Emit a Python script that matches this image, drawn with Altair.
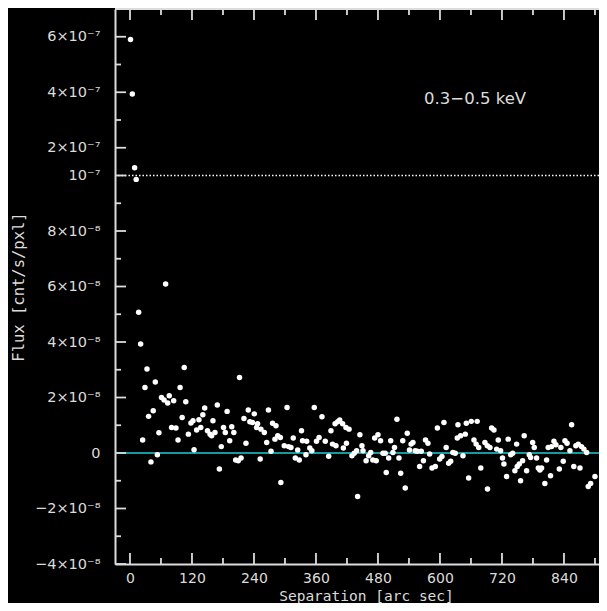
import altair as alt
import pandas as pd

# ---- data (separation in arcsec, flux in units of 1e-8 cnt/s/pxl)
SEP = [1, 4.5, 9, 12, 16.8, 20.6, 24.5, 29, 32.9, 36, 40.6, 45, 49, 53, 56, 61, 66, 69, 73, 76,
       80.5, 84.6, 89, 93, 97, 101, 105, 108, 113, 118, 122, 124, 129, 133.5, 137, 141, 144.6, 150,
       155, 158, 160.6, 164.5, 169, 173, 176.7, 181, 184.5, 188, 193, 197, 201, 204.6, 209.6, 212,
       215, 220.6, 224.5, 229, 232, 237, 240.6, 245, 247, 252, 253.5, 260, 264.6, 268, 273, 276,
       280.6, 282.6, 286, 291, 292, 298.6, 304, 307, 311.6, 316, 320, 324.6, 327.6, 332, 334,
       340.6, 342, 348, 352, 356.7, 361, 366, 371.6, 378, 384.6, 389, 392, 397, 398.7, 402, 406,
       411.6, 413, 418, 419, 424, 429.6, 434, 438.7, 440.6, 445, 449, 451, 457, 462, 466, 470,
       473.6, 476.6, 480, 485, 489.6, 494, 496, 500.7, 504.6, 509, 512, 516.7, 520.6, 524, 528,
       532.8, 536.7, 541, 544, 547.7, 552, 556, 560.6, 563.8, 568, 572, 576.7, 580, 584.6, 591,
       595, 599.4, 603.8, 607.7, 612, 616.8, 620.7, 625, 629.6, 633.5, 634.8, 640, 644.5, 649,
       651, 655.5, 660.6, 665.8, 670, 672, 675, 679, 687, 691.6, 692, 696.7, 700, 704.5, 709.7,
       712.8, 717.4, 721, 723.8, 729, 732, 736.8, 740.7, 745, 748.4, 749.6, 753.5, 756, 760, 763,
       767.7, 772.8, 775.5, 779.4, 782.5, 787, 790.3, 793.5, 796.7, 803, 806.4, 809.5, 814, 816,
       820.6, 824.5, 831, 834, 838.6, 841.9, 846, 851.6, 854.8, 859, 863, 867.6, 871, 874, 878.6,
       883.9, 887, 891.6, 900]
FLUX_E8 = [59.0, 39.4, 12.8, 9.86, 5.07, 3.93, 0.47, 2.36, 3.03, 1.32, -0.32, 1.52, 2.56, -0.06,
           0.73, 2.0, 1.91, 6.09, 1.80, 2.06, 0.92, 1.88, 0.90, 0.47, 2.36, 1.28, 3.08, 1.85, 0.68,
           1.08, 1.16, 0.12, 0.83, 1.2, 0.92, 1.38, 1.62, 0.80, 0.68, 0.62, 1.16, 0.74, 1.73, -0.58,
           0.23, 0.92, 0.74, 1.50, 0.44, 0.95, 0.74, -0.25, -0.28, 2.72, -0.18, 1.24, 0.35, 1.55,
           1.13, 1.10, 1.41, 0.92, 1.05, -0.22, 0.86, 0.74, 0.38, 1.55, 0.06, 1.07, 0.50, 0.98,
           0.62, 0.56, -1.06, 0.26, 1.64, 0.23, 0.20, 0.54, -0.18, 0.11, -0.25, 0.80, 0.44, -0.06,
           0.42, 0.18, 0.08, 1.64, 0.42, 0.56, 1.31, 0.42, -0.12, 0.80, 0.32, 1.05, 0.26, 1.13,
           1.19, 1.05, 0.18, 0.92, 0.35, 0.86, -0.10, -0.01, 0.08, -1.57, 0.66, 0.26, 0.08, -0.28,
           -0.10, 0.02, -0.25, 0.54, -0.28, 0.66, 0.44, -0.01, -0.01, -0.70, -0.18, 0.44, 0.02,
           0.20, 1.22, -0.18, -0.73, 0.44, -1.26, 0.71, 0.11, 0.32, 0.38, 0.08, 0.06, -0.49, 0.06,
           -0.28, 0.47, 0.35, -0.04, -0.54, -0.49, 0.90, -0.22, -0.13, 1.10, 0.20, -0.37, -0.30,
           0.02, -0.01, 0.54, 1.02, 0.62, -0.10, 0.68, 1.07, -0.90, 1.14, 0.47, 0.32, 1.14, 0.20,
           -0.54, 0.38, 0.26, -1.30, 0.20, 0.90, 0.83, 0.14, 0.47, 0.08, -0.18, -0.40, -0.85, 0.50,
           -0.06, -0.01, -0.64, 0.32, -0.49, -0.40, -1.0, -0.28, 0.62, -0.64, -0.06, -0.16, 0.38,
           0.20, -0.18, -0.54, -0.61, -0.54, -1.10, -0.25, 0.20, -0.82, 0.23, 0.42, 0.30, -0.58,
           0.20, -0.30, 0.44, 0.35, 0.08, 1.02, -0.49, 0.26, 0.32, -0.54, 0.23, 0.14, 0.02, -1.21,
           -1.10, -0.85]

# axis ticks / labels (y values in the displayed, broken scale; units of 1e-8)
X_MAJOR = [0, 120, 240, 360, 480, 600, 720, 840]
X_MINOR = [60, 180, 300, 420, 540, 660, 780, 900]
Y_MAJOR = [-4, -2, 0, 2, 4, 6, 8, 10, 11, 13, 15]
Y_LABELS = ["\u22124\u00d710\u207b\u2078", "\u22122\u00d710\u207b\u2078", "0",
            "2\u00d710\u207b\u2078", "4\u00d710\u207b\u2078", "6\u00d710\u207b\u2078",
            "8\u00d710\u207b\u2078", "10\u207b\u2077", "2\u00d710\u207b\u2077",
            "4\u00d710\u207b\u2077", "6\u00d710\u207b\u2077"]
Y_MINOR = [-3, -1, 1, 3, 5, 7, 9, 12, 14]

BREAK = 10        # 1e-7 in units of 1e-8
COMPRESS = 10     # above the break the scale is compressed 10x
BAND_LABEL = ["0.3\u22120.5 keV"]
BAND_SEP = [668]
BAND_FLUX = [37.7]

W, H = 484, 555
FG = "#dcdcdc"
FONT = "DejaVu Sans"
TFONT = "DejaVu Sans Mono"

disp_expr = f"datum.flux <= {BREAK} ? datum.flux : {BREAK} + (datum.flux - {BREAK}) / {COMPRESS}"

label_expr = ""
for v, lab in zip(Y_MAJOR, Y_LABELS):
    label_expr += f"datum.value == {v} ? '{lab}' : "
label_expr += "''"

xscale = alt.Scale(domain=[-29, 907.8], nice=False, zero=False)
yscale = alt.Scale(domain=[-4, 16], nice=False, zero=False)

df = pd.DataFrame({"sep": SEP, "flux": FLUX_E8})

points = alt.Chart(df).transform_calculate(disp=disp_expr).mark_circle(
    size=30, color="white", opacity=1
).encode(
    x=alt.X("sep:Q", scale=xscale, axis=alt.Axis(
        values=X_MAJOR, ticks=False, grid=False, domain=True, domainColor=FG, domainWidth=2,
        labelColor=FG, labelFont=FONT, labelFontSize=14, labelPadding=7,
        title="Separation [arc sec]", titleColor=FG, titleFont=TFONT, titleFontSize=14.5,
        titleFontWeight="normal", titleX=251, titleY=36, titleBaseline="alphabetic")),
    y=alt.Y("disp:Q", scale=yscale, axis=alt.Axis(
        values=Y_MAJOR, labelExpr=label_expr, ticks=False, grid=False, domain=True,
        domainColor=FG, domainWidth=2, labelColor=FG, labelFont=FONT, labelFontSize=14.5,
        labelPadding=15, title="Flux [cnt/s/pxl]", titleColor=FG, titleFont=TFONT,
        titleFontSize=15.5, titleFontWeight="normal", titleX=-97, titleY=H / 2,
        titleAngle=270, titleAlign="center", titleBaseline="middle")),
)

zero_line = alt.Chart(pd.DataFrame({"disp": [0]})).mark_rule(
    color="#18d0d4", strokeWidth=1.6).encode(y="disp:Q")
break_line = alt.Chart(pd.DataFrame({"disp": [BREAK]})).mark_rule(
    color="white", strokeWidth=1.6, strokeDash=[1.5, 2.0]).encode(y="disp:Q")

ymaj = pd.DataFrame({"disp": Y_MAJOR})
ymin = pd.DataFrame({"disp": Y_MINOR})
xmaj = pd.DataFrame({"sep": X_MAJOR})
xmin = pd.DataFrame({"sep": X_MINOR})


def yticks(d, x0, x1):
    return alt.Chart(d).mark_rule(color=FG, strokeWidth=1.8).encode(
        y="disp:Q", x=alt.value(x0), x2=alt.value(x1))


def xticks(d, y0, y1):
    return alt.Chart(d).mark_rule(color=FG, strokeWidth=1.8).encode(
        x="sep:Q", y=alt.value(y0), y2=alt.value(y1))


ticks = [
    yticks(ymaj, 0, 11), yticks(ymin, 0, 6),
    xticks(xmaj, H, H - 11), xticks(xmin, H, H - 6),
    xticks(xmaj, 0, 11), xticks(xmin, 0, 6),
]

top_frame = alt.Chart(pd.DataFrame({"sep": [0]})).mark_rule(color=FG, strokeWidth=2).encode(
    x=alt.value(0), x2=alt.value(W), y=alt.value(0))

band = alt.Chart(pd.DataFrame({"sep": BAND_SEP, "flux": BAND_FLUX, "label": BAND_LABEL})).transform_calculate(
    disp=disp_expr).mark_text(color=FG, font=FONT, fontSize=16.5, align="center", baseline="middle").encode(
    x="sep:Q", y="disp:Q", text="label:N")

chart = alt.layer(zero_line, break_line, *ticks, top_frame, band, points).properties(
    width=W, height=H,
    autosize=alt.AutoSizeParams(type="none"),
    padding={"left": 107, "top": 1, "right": 0, "bottom": 39},
    background="black",
).configure_view(stroke=None)

chart.save("out.html", embed_options={"renderer": "svg", "actions": False})
